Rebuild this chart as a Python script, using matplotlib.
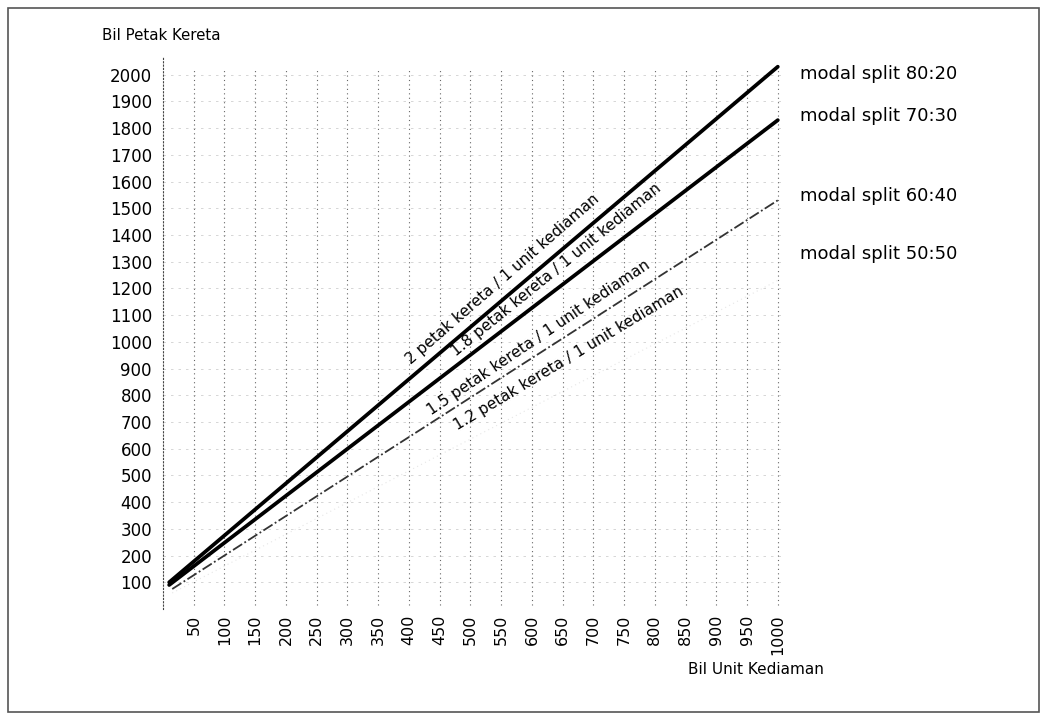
import matplotlib.pyplot as plt
from matplotlib.patches import Rectangle

# data
x_ticks = [50, 100, 150, 200, 250, 300, 350, 400, 450, 500,
           550, 600, 650, 700, 750, 800, 850, 900, 950, 1000]
y_ticks = list(range(100, 2001, 100))

x_ends = [10, 1000]
y_2_0 = [100, 2030]
y_1_8 = [90, 1830]
y_1_5 = [75, 1530]
y_1_2 = [60, 1230]

split_labels = ["modal split 80:20", "modal split 70:30",
                "modal split 60:40", "modal split 50:50"]
split_y = [2004, 1847, 1545, 1328]

ratio_labels = [
    "2 petak kereta / 1 unit kediaman",
    "1.8 petak kereta / 1 unit kediaman",
    "1.5 petak kereta / 1 unit kediaman",
    "1.2 petak kereta / 1 unit kediaman",
]
ratio_xy = [(553, 1235), (640, 1268), (611, 1015), (660, 937)]
ratio_angle = [41, 39, 34, 31]


def main() -> None:
    fig = plt.figure(figsize=(10.49, 7.21), dpi=100)
    fig.patches.append(Rectangle((0.008, 0.012), 0.982, 0.977, transform=fig.transFigure,
                                 fill=False, edgecolor="#555555", linewidth=1.2))

    ax = fig.add_axes([0.1554, 0.1553, 0.589, 0.767])
    ax.set_xlim(0, 1005)
    ax.set_ylim(0, 2070)

    for s in ["top", "right", "bottom"]:
        ax.spines[s].set_visible(False)
    ax.spines["left"].set_linestyle((0, (1, 2)))
    ax.spines["left"].set_color("#444444")

    ax.set_xticks(x_ticks)
    ax.set_xticklabels([str(v) for v in x_ticks], rotation=90, fontsize=11.5)
    ax.set_yticks(y_ticks)
    ax.set_yticklabels([str(v) for v in y_ticks], fontsize=12)
    ax.tick_params(axis="both", length=0)
    ax.tick_params(axis="y", pad=8)
    ax.tick_params(axis="x", pad=4)

    for xv in x_ticks:
        ax.plot([xv, xv], [15, 2025], color="#666666", lw=0.8,
                linestyle=(0, (1, 3)), zorder=1)
    for yv in y_ticks:
        ax.axhline(yv, color="#d0d0d0", lw=0.6, linestyle=(0, (3, 6)), zorder=0)

    ax.plot(x_ends, y_2_0, color="black", lw=2.7, solid_capstyle="round", zorder=3)
    ax.plot(x_ends, y_1_8, color="black", lw=2.7, solid_capstyle="round", zorder=3)
    ax.plot([15, 1000], y_1_5, color="#333333", lw=1.3,
            linestyle=(0, (6, 1.5, 1, 1.5)), zorder=3)
    ax.plot([15, 1000], y_1_2, color="#e6e6e6", lw=0.8,
            linestyle=(0, (1, 3)), zorder=2)

    for lab, yv in zip(split_labels, split_y):
        ax.text(1036, yv, lab, fontsize=13, va="center", ha="left", clip_on=False)

    for lab, (xv, yv), ang in zip(ratio_labels, ratio_xy, ratio_angle):
        ax.text(xv, yv, lab, fontsize=11, rotation=ang, rotation_mode="anchor",
                ha="center", va="center", zorder=4)

    fig.text(102 / 1049, 1 - 36 / 721, "Bil Petak Kereta", fontsize=10.8,
             ha="left", va="center")
    fig.text(688 / 1049, 1 - 670 / 721, "Bil Unit Kediaman", fontsize=11,
             ha="left", va="center")

    fig.savefig("out.png", dpi=100)
    plt.close(fig)


if __name__ == "__main__":
    main()
